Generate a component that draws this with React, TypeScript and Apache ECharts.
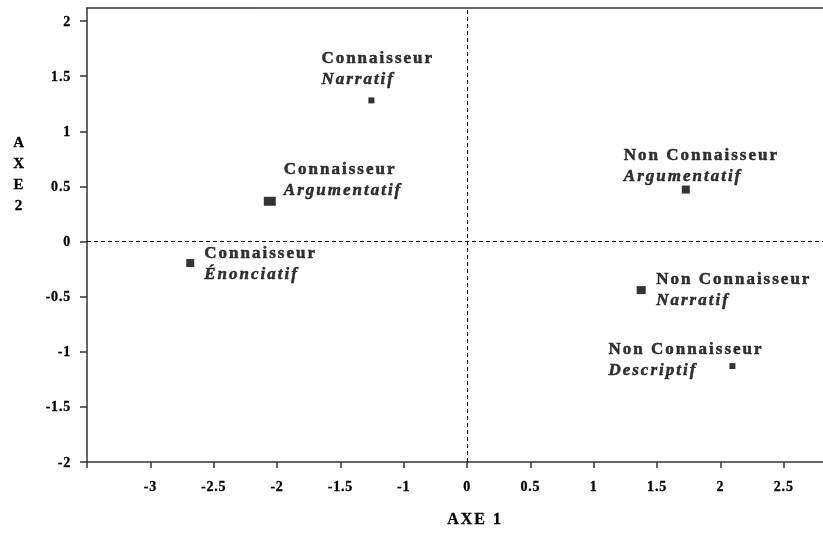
import React, { useEffect, useRef } from "react";
import * as echarts from "echarts";

// Printed categories and coordinates (as read against the printed tick labels)
const groups = ["Connaisseur", "Connaisseur", "Connaisseur", "Non Connaisseur", "Non Connaisseur", "Non Connaisseur"];
const genres = ["Narratif", "Argumentatif", "Énonciatif", "Argumentatif", "Narratif", "Descriptif"];
const axe1 = [-1.255, -2.057, -2.685, 1.727, 1.375, 2.095];
const axe2 = [1.28, 0.365, -0.195, 0.471, -0.441, -1.13];

// Printed tick labels
const xTickLabels = [-3, -2.5, -2, -1.5, -1, 0, 0.5, 1, 1.5, 2, 2.5];
const yTickLabels = [-2, -1.5, -1, -0.5, 0, 0.5, 1, 1.5, 2];

// Styling (kept apart from the data)
const symbolSizes: (number | number[])[] = [6, [12, 9], 8, 8, [9, 8], 6];
const labelOffsets = [[-50, -32], [14, -22], [14, 0], [-62, -25], [15, -1], [-124, -7]];

// The printed x axis skips "-0.5": negative labels sit half a step to the right.
const toAxis = (x: number) => (x < 0 ? x + 0.5 : x);
const fromAxis = (u: number) => (u < 0 ? u - 0.5 : u);
const fmt = (v: number) => String(Math.round(v * 100) / 100);

const FONT = "'Liberation Serif', 'Times New Roman', serif";
const AXIS_COLOR = "#333";

export default function App() {
  const ref = useRef<HTMLDivElement>(null);
  useEffect(() => {
    if (!ref.current) return;
    const chart = echarts.init(ref.current, null, { renderer: "svg" });
    const tickLabelStyle = {
      color: "#000",
      fontFamily: FONT,
      fontWeight: "bold" as const,
      fontSize: 14,
      textBorderColor: "#000",
      textBorderWidth: 0.3,
    };
    const richLine = {
      fontFamily: FONT,
      fontWeight: "bold" as const,
      fontSize: 17,
      lineHeight: 21,
      color: "#000",
      textBorderColor: "#000",
      textBorderWidth: 0.5,
    };
    chart.setOption({
      animation: false,
      grid: { left: 87, right: 0, top: 8, bottom: 73 },
      xAxis: [
        {
          type: "value",
          min: -3,
          max: 2.81,
          interval: 0.5,
          axisLine: { show: true, onZero: false, lineStyle: { color: AXIS_COLOR, width: 1.5 } },
          axisTick: {
            show: true,
            length: 6,
            customValues: [-3, ...xTickLabels.map(toAxis)],
            lineStyle: { color: AXIS_COLOR, width: 1.5 },
          },
          axisLabel: {
            ...tickLabelStyle,
            margin: 17,
            customValues: xTickLabels.map(toAxis),
            formatter: (v: number) => fmt(fromAxis(v)),
          },
          splitLine: { show: false },
        },
        {
          type: "value",
          position: "top",
          min: -3,
          max: 2.81,
          axisLine: { show: true, onZero: false, lineStyle: { color: AXIS_COLOR, width: 1.5 } },
          axisTick: { show: false },
          axisLabel: { show: false },
          splitLine: { show: false },
        },
      ],
      yAxis: {
        type: "value",
        min: -2,
        max: 2.118,
        interval: 0.5,
        axisLine: { show: true, onZero: false, lineStyle: { color: AXIS_COLOR, width: 1.5 } },
        axisTick: {
          show: true,
          length: 7,
          customValues: yTickLabels,
          lineStyle: { color: AXIS_COLOR, width: 1.5 },
        },
        axisLabel: {
          ...tickLabelStyle,
          margin: 16,
          customValues: yTickLabels,
          verticalAlign: "middle",
          padding: [0, 0, 11, 0],
          formatter: (v: number) => fmt(v),
        },
        splitLine: { show: false },
      },
      graphic: [
        {
          type: "text",
          left: 447,
          top: 510,
          style: {
            text: "AXE 1",
            fill: "#000",
            font: `bold 16px ${FONT}`,
            stroke: "#000",
            lineWidth: 0.3,
          },
        },
        {
          type: "text",
          x: 19,
          y: 131,
          style: {
            text: "A\nX\nE\n2",
            fill: "#000",
            font: `bold 15px ${FONT}`,
            lineHeight: 21,
            align: "center",
            verticalAlign: "top",
            stroke: "#000",
            lineWidth: 0.3,
          },
        },
      ],
      series: [
        {
          type: "scatter",
          symbol: "rect",
          itemStyle: { color: "#000" },
          data: axe1.map((x, i) => ({
            value: [toAxis(x), axe2[i]],
            symbolSize: symbolSizes[i],
            label: {
              show: true,
              position: "inside",
              offset: labelOffsets[i],
              align: "left",
              verticalAlign: "middle",
              formatter: `{a|${groups[i]}}\n{b|${genres[i]}}`,
              rich: {
                a: richLine,
                b: { ...richLine, fontStyle: "italic" },
              },
            },
          })),
          markLine: {
            silent: true,
            symbol: "none",
            label: { show: false },
            lineStyle: { color: "#000", type: [4, 3], width: 1 },
            data: [{ xAxis: 0 }, { yAxis: 0 }],
          },
        },
      ],
    });
    return () => chart.dispose();
  }, []);
  return (
    <>
      <style>{`#root svg text { letter-spacing: 0.8px; } #root svg text[style*="17px"], #root svg text[style*="16px"] { letter-spacing: 2px; }`}</style>
      <div ref={ref} style={{ position: "fixed", left: 0, top: 0, width: 823, height: 535 }} />
    </>
  );
}
